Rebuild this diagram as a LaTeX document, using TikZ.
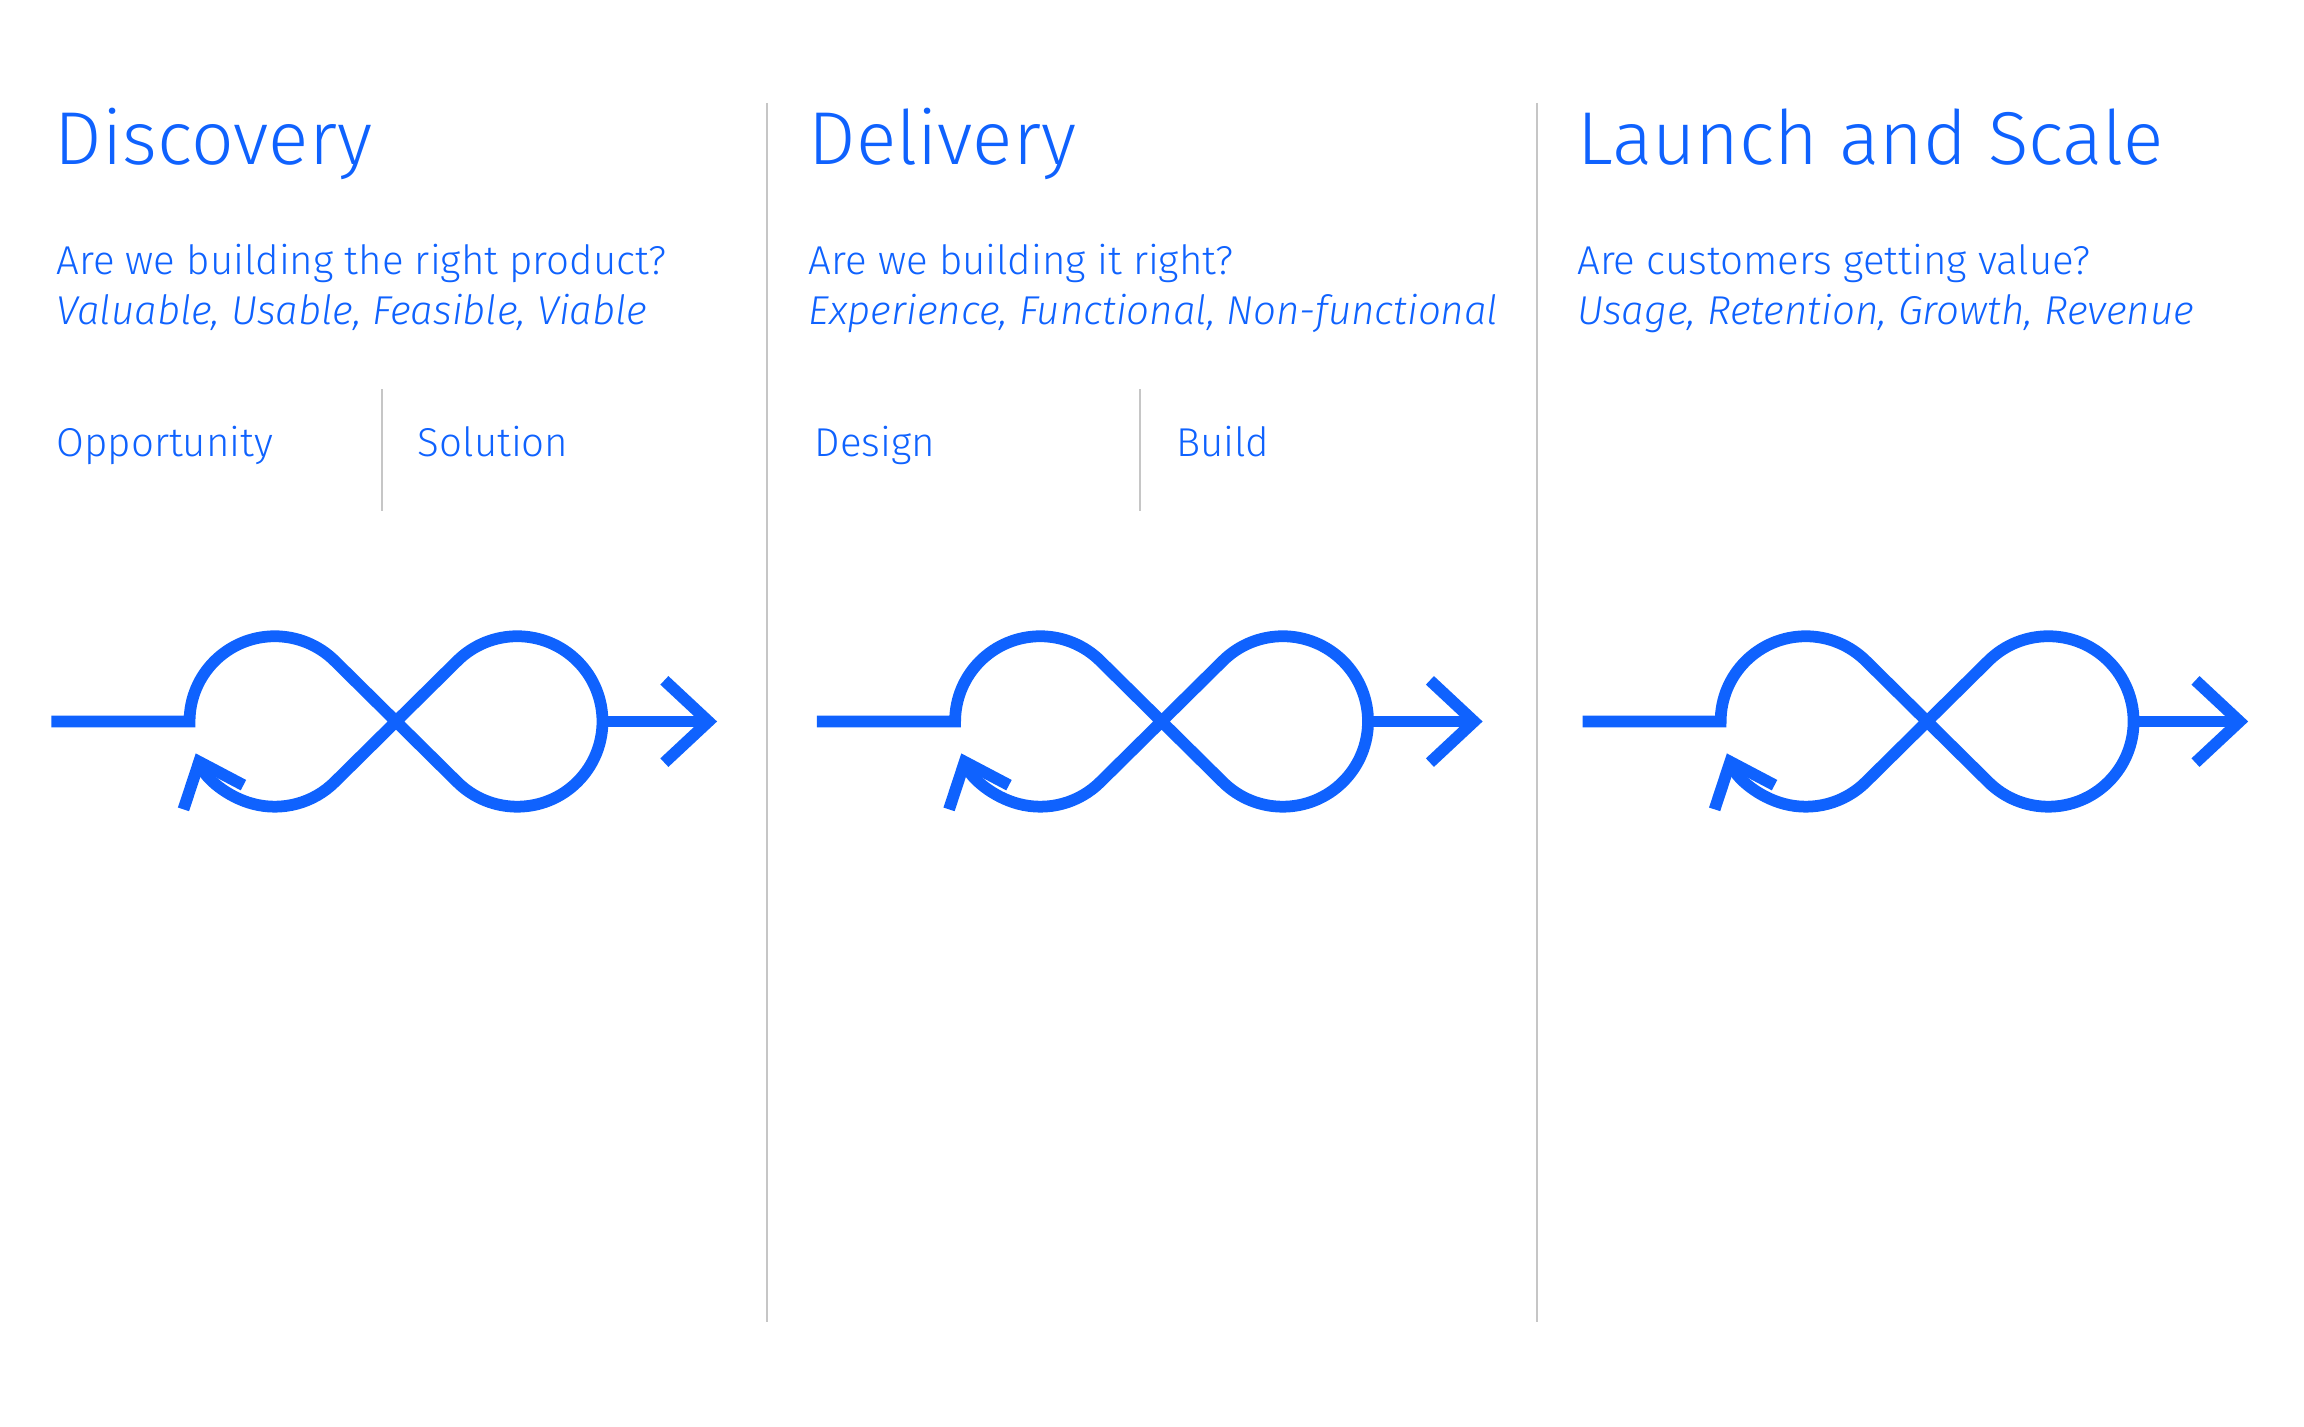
\documentclass[tikz,border=0pt]{standalone}
\usepackage{fontspec}
\setmainfont{Fira Sans}
\newfontfamily\lightfont{Fira Sans Light}
\usetikzlibrary{arrows.meta}
\definecolor{ibmblue}{HTML}{0F62FE}
\definecolor{rulegray}{HTML}{C6C6C6}
\tikzset{
  title/.style={anchor=base west,inner sep=0pt,text=ibmblue,font=\lightfont\fontsize{25.5}{30}\selectfont},
  question/.style={anchor=base west,inner sep=0pt,text=ibmblue,font=\lightfont\fontsize{13.7}{16}\selectfont},
  divider/.style={rulegray,line width=0.6pt},
  loopline/.style={ibmblue,line width=4pt},
}
\begin{document}
\begin{tikzpicture}[x=0.5pt,y=-0.5pt]
\useasboundingbox (0,0) rectangle (1568,971);
% column rules
\draw [divider] (522,70) -- (522,900);
\draw [divider] (1046,70) -- (1046,900);
\draw [divider] (260,265) -- (260,348);
\draw [divider] (776,265) -- (776,348);
% headings
\node [title] (discovery) at (37,112) {Discovery};
\node [title] (delivery) at (550,112) {Delivery};
\node [title] (launch) at (1073,112) {Launch and Scale};
\node [question] (q1) at (38,187) {Are we building the right product?};
\node [question] (q1i) at (38,221) {\itshape Valuable, Usable, Feasible, Viable};
\node [question] (q2) at (550,187) {Are we building it right?};
\node [question] (q2i) at (550,221) {\itshape Experience, Functional, Non-functional};
\node [question] (q3) at (1073,187) {Are customers getting value?};
\node [question] (q3i) at (1073,221) {\itshape Usage, Retention, Growth, Revenue};
\node [question] (opportunity) at (38,311) {Opportunity};
\node [question] (solution) at (284,311) {Solution};
\node [question] (design) at (554,311) {Design};
\node [question] (build) at (800,311) {Build};
% loops
\foreach \dx in {0,521,1042} {
  \begin{scope}[shift={(\dx,0)}]
    \draw [loopline,-{Straight Barb[length=13pt,width=22pt]}] (35,491) -- (129,491)
      arc[start angle=180,end angle=315,radius=58] -- (311,532)
      arc[start angle=135,end angle=-135,radius=58] -- (228,532)
      arc[start angle=45,end angle=158,radius=58];
    \draw [loopline,-{Straight Barb[length=15pt,width=28pt]}] (410,491) -- (488,491);
  \end{scope}
}
\end{tikzpicture}
\end{document}
